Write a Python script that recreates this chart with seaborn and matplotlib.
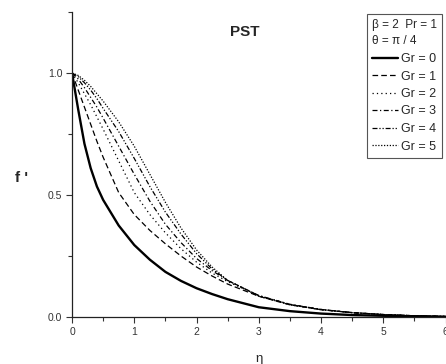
import matplotlib
matplotlib.use("Agg")
import matplotlib.pyplot as plt
import seaborn as sns
import numpy as np

# ---- data ----
eta = [0, 0.1, 0.2, 0.3, 0.4, 0.5, 0.75, 1.0, 1.25, 1.5, 1.75, 2.0, 2.25, 2.5, 3.0, 3.5, 4.0, 4.5, 5.0, 5.5, 6.0]
gr_values = [0, 1, 2, 3, 4, 5]
f_gr0 = [1.0, 0.85, 0.71, 0.61, 0.535, 0.48, 0.375, 0.295, 0.235, 0.185, 0.148, 0.118, 0.094, 0.073, 0.040, 0.024, 0.014, 0.008, 0.005, 0.003, 0.001]
f_gr1 = [1.0, 0.93, 0.86, 0.79, 0.72, 0.655, 0.51, 0.42, 0.355, 0.30, 0.25, 0.205, 0.168, 0.135, 0.085, 0.050, 0.030, 0.018, 0.010, 0.005, 0.002]
f_gr2 = [1.0, 0.96, 0.915, 0.87, 0.82, 0.77, 0.64, 0.51, 0.42, 0.345, 0.28, 0.225, 0.18, 0.145, 0.088, 0.052, 0.031, 0.018, 0.010, 0.005, 0.002]
f_gr3 = [1.0, 0.975, 0.94, 0.90, 0.86, 0.815, 0.70, 0.585, 0.475, 0.38, 0.305, 0.24, 0.19, 0.15, 0.088, 0.052, 0.031, 0.018, 0.010, 0.005, 0.002]
f_gr4 = [1.0, 0.985, 0.96, 0.93, 0.895, 0.855, 0.76, 0.65, 0.535, 0.43, 0.34, 0.26, 0.197, 0.15, 0.087, 0.051, 0.030, 0.018, 0.010, 0.005, 0.002]
f_gr5 = [1.0, 0.99, 0.97, 0.945, 0.915, 0.885, 0.80, 0.70, 0.585, 0.47, 0.365, 0.275, 0.205, 0.15, 0.085, 0.050, 0.030, 0.018, 0.010, 0.005, 0.002]
series = [f_gr0, f_gr1, f_gr2, f_gr3, f_gr4, f_gr5]
x_ticks = [0, 1, 2, 3, 4, 5, 6]
y_ticks = [0.0, 0.5, 1.0]

sns.set_theme(style="ticks")
plt.rcParams["font.family"] = ["Liberation Sans", "DejaVu Sans"]

styles = [
    dict(linestyle="-", lw=1.7),
    dict(linestyle=(0, (4.5, 2.5)), lw=0.9),
    dict(linestyle=(0, (1, 2.5)), lw=0.9),
    dict(linestyle=(0, (4, 2, 1, 2)), lw=0.9),
    dict(linestyle=(0, (4, 1.5, 1, 1.5, 1, 1.5)), lw=0.9),
    dict(linestyle=(0, (1, 1.3)), lw=0.9),
]

fig = plt.figure(figsize=(4.46, 3.64), dpi=100)
ax = fig.add_axes([72 / 446, 1 - 317 / 364, 1 - 72 / 446 - 0.001, (317 - 12) / 364])

for g, vals, st in zip(gr_values, series, styles):
    sns.lineplot(x=eta, y=vals, ax=ax, color="black", label=f"Gr = {g}", **st)

ax.set_xlim(0, 6)
ax.set_ylim(0, 1.25)
ax.set_xticks(x_ticks)
ax.set_xticklabels([str(t) for t in x_ticks])
ax.set_yticks(y_ticks)
ax.set_yticklabels([f"{t:.1f}" for t in y_ticks])
ax.set_xticks(np.arange(0.5, 6, 1.0), minor=True)
ax.set_yticks([0.25, 0.75, 1.25], minor=True)
ax.tick_params(axis="both", which="major", length=4, width=0.8, labelsize=7.5, colors="#333333", pad=3)
ax.tick_params(axis="both", which="minor", length=3, width=0.8, colors="#333333")
for s in ("top", "right"):
    ax.spines[s].set_visible(False)
for s in ("left", "bottom"):
    ax.spines[s].set_linewidth(0.9)
    ax.spines[s].set_color("#222222")

ax.set_xlabel("η", fontsize=9.5, labelpad=12)
ax.set_ylabel("f '", fontsize=11, fontweight="bold", rotation=0, ha="center", va="center")
ax.yaxis.set_label_coords(-0.134, 0.456)

ax.text(0.463, 0.934, "PST", transform=ax.transAxes, fontsize=11, fontweight="bold",
        ha="center", va="center")

leg = ax.legend(
    loc="upper left",
    bbox_to_anchor=(367 / 446, 1 - 14 / 364),
    bbox_transform=fig.transFigure,
    title="β = 2  Pr = 1\nθ = π / 4",
    alignment="left",
    fontsize=9,
    title_fontsize=8.5,
    frameon=True,
    fancybox=False,
    framealpha=1,
    edgecolor="#555555",
    handlelength=2.1,
    handletextpad=0.25,
    borderpad=0.4,
    borderaxespad=0,
    labelspacing=0.44,
)
leg.get_title().set_linespacing(1.5)
leg.get_frame().set_linewidth(0.8)

fig.savefig("out.png", dpi=100)
